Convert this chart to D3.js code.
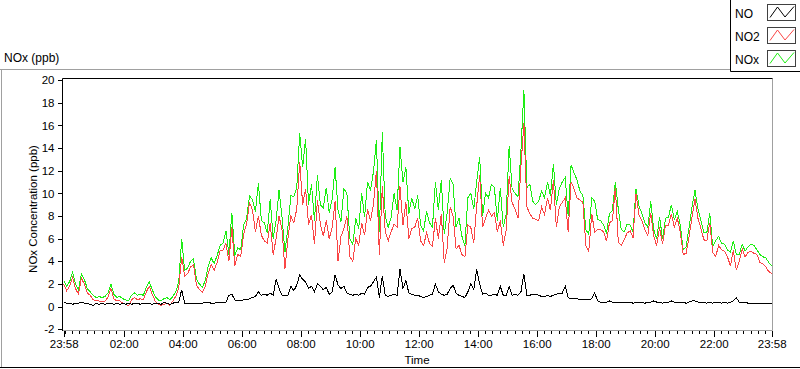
<!DOCTYPE html>
<html>
<head>
<meta charset="utf-8">
<script src="https://cdn.jsdelivr.net/npm/d3@7"></script>
<style>
body { margin: 0; background: #fff; }
svg { display: block; font-family: "Liberation Sans", Arial, sans-serif; font-size: 11.5px; }
</style>
</head>
<body>
<svg id="chart" width="800" height="369"></svg>
<script>
// one sample every 6 minutes, from 23:58 to 23:58 next day
var seriesNames = ["NO", "NO2", "NOx"];
var stepMinutes = 6;

var noValues = [
  0.4,0.3,0.3,0.2,0.3,0.3,0.4,0.3,0.3,0.2,0.1,0.3,0.2,0.3,0.2,0.3,0.3,0.2,0.3,0.2,0.3,0.2,0.3,0.2,0.3,0.3,0.2,0.3,0.3,0.3,0.2,0.3,0.3,0.2,0.4,0.3,0.2,0.3,0.4,0.4,1.5,0.3,0.3,0.3,0.3,0.3,0.3,0.3,
  0.4,0.4,0.3,0.3,0.4,0.4,0.4,0.4,1.0,1.1,0.6,0.5,0.5,0.6,0.6,0.7,0.8,0.9,1.3,1.0,1.1,1.0,1.2,1.0,2.4,1.6,1.0,1.0,1.0,1.8,1.4,1.9,2.8,2.4,2.2,1.6,1.8,1.3,2.0,1.8,1.5,1.7,1.1,1.3,2.8,1.9,1.6,1.8,
  1.2,1.1,1.0,1.1,1.0,1.2,1.1,1.7,1.8,2.2,2.6,0.8,2.7,1.0,0.9,1.0,1.1,1.0,3.3,1.6,2.3,1.2,1.1,1.0,1.0,0.9,0.8,0.9,1.0,1.1,2.0,1.3,1.1,1.0,1.1,1.6,1.9,1.2,1.0,0.9,0.8,1.3,2.0,1.5,3.3,2.0,1.1,1.2,
  1.0,1.0,1.1,1.0,1.8,1.0,1.0,1.8,1.0,1.1,1.0,1.3,2.9,1.0,1.0,1.1,1.1,1.0,0.9,0.9,1.0,0.9,1.0,1.1,1.2,1.2,1.8,0.8,0.7,0.7,0.7,0.6,0.6,0.6,0.6,0.7,1.2,0.5,0.4,0.4,0.4,0.5,0.4,0.4,0.4,0.4,0.4,0.4,
  0.4,0.3,0.4,0.4,0.4,0.3,0.4,0.4,0.5,0.4,0.4,0.3,0.4,0.4,0.5,0.4,0.4,0.4,0.4,0.3,0.4,0.5,0.5,0.4,0.4,0.4,0.3,0.4,0.3,0.4,0.4,0.3,0.4,0.3,0.4,0.5,0.8,0.4,0.4,0.4,0.3,0.3,0.3,0.3,0.3,0.3,0.3,0.3,0.3
];

var no2Values = [
  2.0,1.4,1.8,2.6,1.6,1.1,2.5,2.0,1.2,1.0,0.6,0.5,0.5,0.4,0.5,0.8,1.6,0.7,0.5,0.5,0.3,0.2,0.1,0.6,0.8,0.6,0.7,0.6,1.3,1.8,1.1,0.5,0.2,0.1,0.2,0.3,0.1,0.5,0.9,1.7,4.4,2.7,2.9,3.5,3.7,1.9,1.5,1.3,
  1.8,3.0,3.7,3.2,3.9,4.9,5.0,5.6,4.0,7.0,3.6,4.6,4.4,6.4,7.3,9.2,8.5,6.6,8.0,6.3,5.8,5.6,7.4,4.6,6.0,8.0,6.8,3.3,6.0,8.0,7.4,8.6,12.8,9.0,10.4,7.2,8.1,5.5,9.4,7.3,6.2,7.6,6.0,7.0,9.3,4.0,6.2,6.9,
  8.0,4.4,4.0,6.0,5.4,7.4,6.3,8.6,7.6,9.0,12.0,4.6,10.6,6.6,5.8,6.6,7.3,7.0,10.6,7.2,9.2,6.0,6.9,7.0,7.8,5.8,5.4,6.5,5.6,5.3,7.8,6.0,8.2,3.9,5.2,8.8,8.0,5.1,5.4,4.6,4.4,7.2,7.0,5.6,8.9,11.6,7.0,7.8,
  8.5,8.0,8.3,6.6,7.6,5.4,6.8,11.5,9.2,8.6,7.8,12.4,16.2,8.8,8.2,7.8,7.7,7.6,8.8,8.1,9.6,8.5,11.2,7.0,8.8,9.2,9.6,6.6,11.0,10.4,9.6,9.4,9.2,5.4,4.9,8.2,6.6,6.8,6.8,6.6,5.8,7.4,7.6,10.5,5.7,5.4,5.9,6.5,
  6.7,6.1,9.9,8.1,7.6,6.8,6.3,8.3,6.2,5.4,7.0,5.5,7.2,7.2,8.2,7.0,7.8,6.6,4.6,4.7,6.2,7.9,9.5,7.8,6.9,5.9,5.8,7.4,4.8,4.4,5.4,5.0,4.9,4.4,3.6,5.0,3.2,4.0,5.1,4.4,4.8,4.9,4.7,4.6,3.9,3.8,3.5,3.1,2.9
];

var noxValues = [
  2.3,1.8,2.2,3.0,2.0,1.5,2.9,2.4,1.6,1.3,1.0,0.8,0.9,0.8,0.9,1.2,2.0,1.1,0.8,0.9,0.7,0.6,0.5,1.0,1.2,1.0,1.1,1.0,1.7,2.2,1.5,0.9,0.6,0.5,0.7,0.8,0.6,0.9,1.3,2.2,6.0,3.2,3.4,4.0,4.2,2.4,2.0,1.7,
  2.3,3.6,4.3,3.8,4.5,5.4,5.6,6.7,4.6,8.3,4.5,5.2,5.0,7.2,7.8,9.8,9.4,8.4,10.9,7.6,7.4,6.5,9.5,6.0,7.6,10.3,7.9,4.8,7.0,9.8,9.7,10.5,15.3,12.3,14.8,9.0,10.8,7.6,11.6,9.0,8.7,10.5,8.3,9.5,12.3,8.5,7.5,10.4,
  10.0,6.0,5.5,7.8,6.9,10.0,7.9,11.0,10.3,11.9,14.7,6.6,15.4,8.0,7.0,7.9,10.0,8.5,14.1,11.0,12.3,8.2,9.6,8.6,9.8,7.2,6.7,8.4,7.4,7.0,11.0,8.5,11.2,6.4,8.3,11.3,10.8,7.0,7.8,6.2,5.4,9.6,10.0,8.6,11.0,13.2,8.0,10.0,
  9.6,10.8,10.5,7.6,10.5,7.0,8.2,14.2,10.4,10.0,9.7,13.8,19.1,10.5,10.8,9.3,9.0,9.3,10.2,9.6,11.0,9.8,12.6,9.0,10.4,11.0,11.4,8.0,12.5,11.8,11.2,10.2,9.8,6.8,6.4,9.6,9.3,7.7,7.6,7.2,6.5,8.2,8.5,11.0,8.6,6.8,6.6,7.3,
  7.2,6.6,10.4,8.9,8.2,7.4,7.0,9.3,6.8,6.0,7.9,6.0,7.8,7.9,9.0,7.7,8.4,7.2,5.0,5.3,7.0,8.8,10.3,8.6,7.6,6.5,6.5,8.3,5.3,5.8,6.2,5.6,5.5,5.0,4.8,5.8,4.6,4.6,5.5,4.9,5.3,5.5,5.4,5.0,4.6,4.4,4.3,3.9,3.6
];

var yTicks = [-2, 0, 2, 4, 6, 8, 10, 12, 14, 16, 18, 20];

var svg = d3.select("#chart");
var fmt = d3.timeFormat("%H:%M");

var start = new Date(2000, 0, 1, 23, 58),
    end = d3.timeMinute.offset(start, 1440);

var x = d3.scaleTime().domain([start, end]).range([63.7, 771.7]),
    y = d3.scaleLinear().domain([-2, 20]).range([329.3, 80]);

function timeAt(i) { return d3.timeMinute.offset(start, i * stepMinutes); }

// outer panel frame
svg.append("path")
    .attr("d", "M0,69.5H731M1.5,69.5V368")
    .attr("fill", "none").attr("stroke", "#a0a0a0");
svg.append("path")
    .attr("d", "M0,367.5H800")
    .attr("fill", "none").attr("stroke", "#000");

svg.append("text")
    .attr("x", 4).attr("y", 62)
    .style("font-size", "12px")
    .text("NOx (ppb)");

// plot frame
svg.append("path")
    .attr("d", "M772.5,78.5V330.5H62")
    .attr("fill", "none").attr("stroke", "#a0a0a0");
svg.append("path")
    .attr("d", "M62.5,331V78.5H772.5")
    .attr("fill", "none").attr("stroke", "#000");

// y axis
var yAxis = svg.append("g")
    .attr("transform", "translate(62.5,0)")
    .call(d3.axisLeft(y).tickValues(yTicks).tickSize(5).tickPadding(3)
        .tickFormat(function(d) { return String(d); }));
yAxis.select(".domain").remove();
yAxis.selectAll("text").attr("fill", "#000").style("font-size", "11.5px").style("font-family", "Liberation Sans, Arial, sans-serif");

// x axis: major ticks at the ends and every two hours, minor every 15 minutes
var majorTicks = [start].concat(d3.timeHour.every(2).range(d3.timeMinute.offset(start, 3), end)).concat([end]);
var minorTicks = d3.timeMinute.every(15).range(d3.timeMinute.offset(start, 1), end);

var xMinor = svg.append("g")
    .attr("transform", "translate(0,331)")
    .call(d3.axisBottom(x).tickValues(minorTicks).tickSize(3).tickFormat(""));
xMinor.select(".domain").remove();
xMinor.selectAll("text").remove();

var xAxis = svg.append("g")
    .attr("transform", "translate(0,331)")
    .call(d3.axisBottom(x).tickValues(majorTicks).tickSize(6).tickPadding(3).tickFormat(fmt));
xAxis.select(".domain").remove();
xAxis.selectAll("text").attr("fill", "#000").style("font-size", "11.5px").style("font-family", "Liberation Sans, Arial, sans-serif");

svg.selectAll(".tick line").attr("shape-rendering", "crispEdges");

// axis titles
svg.append("text")
    .attr("x", 417).attr("y", 364)
    .attr("text-anchor", "middle")
    .text("Time");
svg.append("text")
    .attr("transform", "translate(37,209) rotate(-90)")
    .attr("text-anchor", "middle")
    .text("NOx Concentration (ppb)");

// lines
var line = d3.line()
    .x(function(d, i) { return x(timeAt(i)); })
    .y(function(d) { return y(d); });

var plots = [
  {values: noxValues, color: "#1eee14"},
  {values: no2Values, color: "#fa4646"},
  {values: noValues, color: "#000"}
];

svg.append("g").selectAll("path")
    .data(plots)
    .enter()
    .append("path")
    .attr("d", function(d) { return line(d.values); })
    .attr("fill", "none")
    .attr("stroke", function(d) { return d.color; })
    .attr("stroke-width", 1)
    .attr("shape-rendering", "crispEdges");

// legend
svg.append("path")
    .attr("d", "M730.5,0V71.5H800")
    .attr("fill", "none").attr("stroke", "#000");

var legendColors = ["#000", "#fa4646", "#1eee14"];
var items = svg.append("g").selectAll("g")
    .data(seriesNames)
    .enter()
    .append("g")
    .attr("transform", function(d, i) { return "translate(0," + (i * 23) + ")"; });

items.append("text")
    .attr("x", 735).attr("y", 18)
    .style("font-size", "12px")
    .text(function(d) { return d; });

items.append("rect")
    .attr("x", 767.5).attr("y", 4.5)
    .attr("width", 28).attr("height", 16)
    .attr("fill", "#fff")
    .attr("stroke", "#404040");

items.append("path")
    .attr("d", "M770,17.5L777.5,7L785,17L794,6.5")
    .attr("fill", "none")
    .attr("stroke", function(d, i) { return legendColors[i]; });
</script>
</body>
</html>
